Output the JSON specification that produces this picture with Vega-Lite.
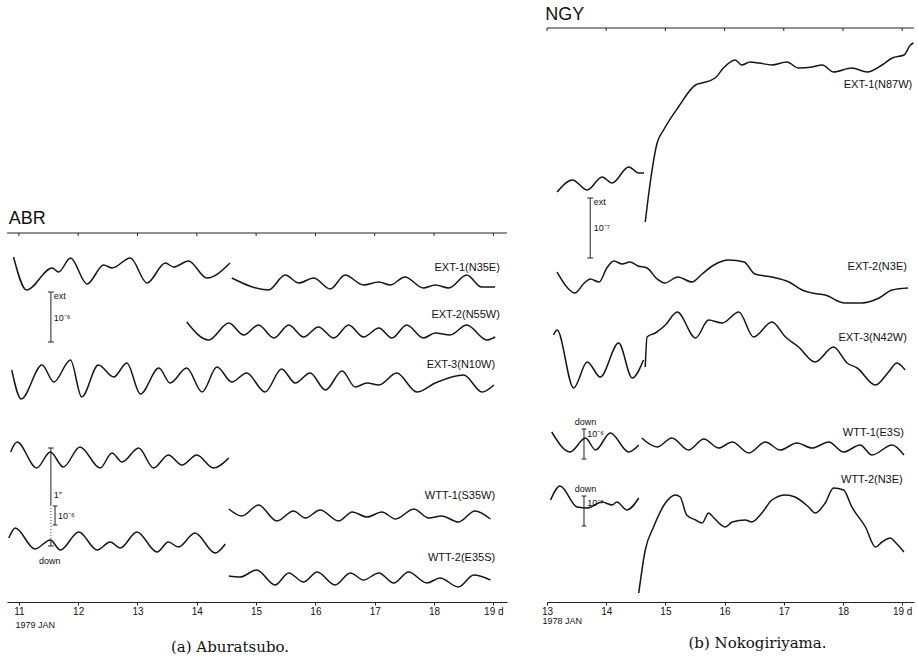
{
  "$schema": "https://vega.github.io/schema/vega-lite/v6.json",
  "background": "white",
  "padding": {"left": 5, "top": 6, "right": 4, "bottom": 4},
  "spacing": 40,
  "bounds": "flush",
  "config": {
    "view": {"stroke": null},
    "font": "Liberation Sans",
    "axis": {"grid": false}
  },
  "datasets": {
    "abr": [
      {"s":"e1a","d":10.91,"v":345},{"s":"e1a","d":11.13,"v":312},{"s":"e1a","d":11.56,"v":334},{"s":"e1a","d":11.67,"v":330},{"s":"e1a","d":11.87,"v":344},{"s":"e1a","d":12.15,"v":318},{"s":"e1a","d":12.43,"v":337},{"s":"e1a","d":12.57,"v":334},{"s":"e1a","d":12.88,"v":344},{"s":"e1a","d":13.16,"v":319},{"s":"e1a","d":13.47,"v":339},{"s":"e1a","d":13.61,"v":335},{"s":"e1a","d":13.86,"v":341},{"s":"e1a","d":14.17,"v":324},{"s":"e1a","d":14.56,"v":339},
      {"s":"e1b","d":14.59,"v":324},{"s":"e1b","d":15.21,"v":312},{"s":"e1b","d":15.49,"v":327},{"s":"e1b","d":15.72,"v":319},{"s":"e1b","d":15.97,"v":324},{"s":"e1b","d":16.25,"v":313},{"s":"e1b","d":16.5,"v":327},{"s":"e1b","d":16.81,"v":317},{"s":"e1b","d":17.07,"v":320},{"s":"e1b","d":17.26,"v":317},{"s":"e1b","d":17.51,"v":325},{"s":"e1b","d":17.82,"v":314},{"s":"e1b","d":18.02,"v":317},{"s":"e1b","d":18.25,"v":314},{"s":"e1b","d":18.55,"v":327},{"s":"e1b","d":18.8,"v":315},{"s":"e1b","d":19.03,"v":315},
      {"s":"e2","d":13.83,"v":280},{"s":"e2","d":14.2,"v":262},{"s":"e2","d":14.54,"v":279},{"s":"e2","d":14.79,"v":267},{"s":"e2","d":15.04,"v":277},{"s":"e2","d":15.3,"v":264},{"s":"e2","d":15.55,"v":277},{"s":"e2","d":15.8,"v":265},{"s":"e2","d":16.05,"v":275},{"s":"e2","d":16.31,"v":264},{"s":"e2","d":16.56,"v":277},{"s":"e2","d":16.81,"v":265},{"s":"e2","d":17.07,"v":274},{"s":"e2","d":17.29,"v":264},{"s":"e2","d":17.54,"v":277},{"s":"e2","d":17.82,"v":264},{"s":"e2","d":18.02,"v":269},{"s":"e2","d":18.27,"v":267},{"s":"e2","d":18.55,"v":277},{"s":"e2","d":18.89,"v":262},{"s":"e2","d":19.03,"v":265},
      {"s":"e3","d":10.88,"v":232},{"s":"e3","d":11.04,"v":203},{"s":"e3","d":11.39,"v":237},{"s":"e3","d":11.59,"v":220},{"s":"e3","d":11.87,"v":242},{"s":"e3","d":12.06,"v":205},{"s":"e3","d":12.34,"v":237},{"s":"e3","d":12.6,"v":225},{"s":"e3","d":12.82,"v":239},{"s":"e3","d":13.05,"v":208},{"s":"e3","d":13.36,"v":234},{"s":"e3","d":13.55,"v":219},{"s":"e3","d":13.83,"v":234},{"s":"e3","d":14.09,"v":210},{"s":"e3","d":14.34,"v":235},{"s":"e3","d":14.59,"v":220},{"s":"e3","d":14.84,"v":229},{"s":"e3","d":15.15,"v":210},{"s":"e3","d":15.43,"v":233},{"s":"e3","d":15.66,"v":219},{"s":"e3","d":15.91,"v":229},{"s":"e3","d":16.17,"v":212},{"s":"e3","d":16.45,"v":231},{"s":"e3","d":16.67,"v":215},{"s":"e3","d":16.87,"v":219},{"s":"e3","d":17.07,"v":217},{"s":"e3","d":17.37,"v":229},{"s":"e3","d":17.71,"v":210},{"s":"e3","d":18.02,"v":219},{"s":"e3","d":18.5,"v":227},{"s":"e3","d":18.81,"v":210},{"s":"e3","d":19.01,"v":217},
      {"s":"w1a","d":10.86,"v":150},{"s":"w1a","d":10.97,"v":160},{"s":"w1a","d":11.3,"v":134},{"s":"w1a","d":11.53,"v":150},{"s":"w1a","d":11.75,"v":135},{"s":"w1a","d":12.03,"v":155},{"s":"w1a","d":12.37,"v":134},{"s":"w1a","d":12.57,"v":149},{"s":"w1a","d":12.74,"v":140},{"s":"w1a","d":13.02,"v":154},{"s":"w1a","d":13.27,"v":134},{"s":"w1a","d":13.52,"v":147},{"s":"w1a","d":13.75,"v":137},{"s":"w1a","d":14.0,"v":147},{"s":"w1a","d":14.28,"v":134},{"s":"w1a","d":14.54,"v":144},
      {"s":"w2a","d":10.83,"v":64},{"s":"w2a","d":10.94,"v":74},{"s":"w2a","d":11.27,"v":53},{"s":"w2a","d":11.53,"v":62},{"s":"w2a","d":11.7,"v":52},{"s":"w2a","d":12.01,"v":70},{"s":"w2a","d":12.32,"v":52},{"s":"w2a","d":12.54,"v":60},{"s":"w2a","d":12.71,"v":54},{"s":"w2a","d":12.99,"v":70},{"s":"w2a","d":13.33,"v":50},{"s":"w2a","d":13.52,"v":60},{"s":"w2a","d":13.69,"v":55},{"s":"w2a","d":13.97,"v":69},{"s":"w2a","d":14.31,"v":49},{"s":"w2a","d":14.48,"v":58},
      {"s":"w1b","d":14.54,"v":93},{"s":"w1b","d":14.76,"v":86},{"s":"w1b","d":15.04,"v":97},{"s":"w1b","d":15.35,"v":81},{"s":"w1b","d":15.63,"v":91},{"s":"w1b","d":15.83,"v":84},{"s":"w1b","d":16.08,"v":92},{"s":"w1b","d":16.39,"v":81},{"s":"w1b","d":16.62,"v":90},{"s":"w1b","d":16.87,"v":85},{"s":"w1b","d":17.12,"v":90},{"s":"w1b","d":17.35,"v":83},{"s":"w1b","d":17.66,"v":93},{"s":"w1b","d":17.91,"v":84},{"s":"w1b","d":18.13,"v":86},{"s":"w1b","d":18.41,"v":80},{"s":"w1b","d":18.69,"v":91},{"s":"w1b","d":18.95,"v":83},
      {"s":"w2b","d":14.54,"v":26},{"s":"w2b","d":14.73,"v":25},{"s":"w2b","d":15.01,"v":32},{"s":"w2b","d":15.32,"v":17},{"s":"w2b","d":15.55,"v":29},{"s":"w2b","d":15.8,"v":20},{"s":"w2b","d":16.03,"v":30},{"s":"w2b","d":16.33,"v":17},{"s":"w2b","d":16.59,"v":29},{"s":"w2b","d":16.81,"v":22},{"s":"w2b","d":17.07,"v":29},{"s":"w2b","d":17.32,"v":19},{"s":"w2b","d":17.57,"v":30},{"s":"w2b","d":17.88,"v":19},{"s":"w2b","d":18.1,"v":24},{"s":"w2b","d":18.41,"v":15},{"s":"w2b","d":18.67,"v":27},{"s":"w2b","d":18.95,"v":22}
    ],
    "ngy": [
      {"s":"n1a","d":13.17,"v":410},{"s":"n1a","d":13.43,"v":422},{"s":"n1a","d":13.68,"v":412},{"s":"n1a","d":13.93,"v":425},{"s":"n1a","d":14.1,"v":419},{"s":"n1a","d":14.38,"v":435},{"s":"n1a","d":14.55,"v":429},{"s":"n1a","d":14.64,"v":429},
      {"s":"n1b","d":14.66,"v":380},{"s":"n1b","d":14.75,"v":422},{"s":"n1b","d":14.86,"v":459},{"s":"n1b","d":14.97,"v":472},{"s":"n1b","d":15.22,"v":495},{"s":"n1b","d":15.51,"v":517},{"s":"n1b","d":15.62,"v":519},{"s":"n1b","d":15.84,"v":524},{"s":"n1b","d":15.98,"v":534},{"s":"n1b","d":16.18,"v":542},{"s":"n1b","d":16.29,"v":537},{"s":"n1b","d":16.43,"v":540},{"s":"n1b","d":16.58,"v":539},{"s":"n1b","d":16.8,"v":537},{"s":"n1b","d":17.05,"v":540},{"s":"n1b","d":17.25,"v":534},{"s":"n1b","d":17.48,"v":535},{"s":"n1b","d":17.65,"v":537},{"s":"n1b","d":17.84,"v":530},{"s":"n1b","d":18.15,"v":534},{"s":"n1b","d":18.41,"v":530},{"s":"n1b","d":18.66,"v":537},{"s":"n1b","d":18.83,"v":544},{"s":"n1b","d":19.03,"v":547},{"s":"n1b","d":19.14,"v":557},{"s":"n1b","d":19.19,"v":559},
      {"s":"n2","d":13.17,"v":330},{"s":"n2","d":13.35,"v":314},{"s":"n2","d":13.47,"v":309},{"s":"n2","d":13.63,"v":319},{"s":"n2","d":13.73,"v":323},{"s":"n2","d":13.88,"v":320},{"s":"n2","d":14.01,"v":334},{"s":"n2","d":14.13,"v":341},{"s":"n2","d":14.27,"v":338},{"s":"n2","d":14.4,"v":340},{"s":"n2","d":14.54,"v":336},{"s":"n2","d":14.69,"v":334},{"s":"n2","d":14.86,"v":323},{"s":"n2","d":14.99,"v":319},{"s":"n2","d":15.21,"v":325},{"s":"n2","d":15.45,"v":320},{"s":"n2","d":15.62,"v":328},{"s":"n2","d":15.82,"v":337},{"s":"n2","d":16.07,"v":342},{"s":"n2","d":16.33,"v":340},{"s":"n2","d":16.51,"v":328},{"s":"n2","d":16.8,"v":325},{"s":"n2","d":17.09,"v":320},{"s":"n2","d":17.31,"v":312},{"s":"n2","d":17.48,"v":309},{"s":"n2","d":17.7,"v":307},{"s":"n2","d":18.03,"v":299},{"s":"n2","d":18.32,"v":299},{"s":"n2","d":18.61,"v":304},{"s":"n2","d":18.83,"v":312},{"s":"n2","d":19.1,"v":314},
      {"s":"n3a","d":13.11,"v":267},{"s":"n3a","d":13.17,"v":272},{"s":"n3a","d":13.45,"v":214},{"s":"n3a","d":13.68,"v":240},{"s":"n3a","d":13.9,"v":225},{"s":"n3a","d":14.21,"v":259},{"s":"n3a","d":14.44,"v":224},{"s":"n3a","d":14.63,"v":242},
      {"s":"n3b","d":14.66,"v":235},{"s":"n3b","d":14.69,"v":265},{"s":"n3b","d":14.83,"v":269},{"s":"n3b","d":15.0,"v":277},{"s":"n3b","d":15.2,"v":290},{"s":"n3b","d":15.51,"v":264},{"s":"n3b","d":15.73,"v":282},{"s":"n3b","d":15.96,"v":279},{"s":"n3b","d":16.24,"v":290},{"s":"n3b","d":16.49,"v":265},{"s":"n3b","d":16.8,"v":280},{"s":"n3b","d":17.03,"v":265},{"s":"n3b","d":17.25,"v":255},{"s":"n3b","d":17.53,"v":240},{"s":"n3b","d":17.84,"v":255},{"s":"n3b","d":18.07,"v":239},{"s":"n3b","d":18.24,"v":234},{"s":"n3b","d":18.55,"v":217},{"s":"n3b","d":18.77,"v":230},{"s":"n3b","d":18.91,"v":239},{"s":"n3b","d":19.05,"v":232},
      {"s":"n4a","d":13.08,"v":170},{"s":"n4a","d":13.39,"v":150},{"s":"n4a","d":13.65,"v":164},{"s":"n4a","d":13.82,"v":152},{"s":"n4a","d":14.07,"v":169},{"s":"n4a","d":14.38,"v":150},{"s":"n4a","d":14.55,"v":157},
      {"s":"n4b","d":14.6,"v":164},{"s":"n4b","d":14.86,"v":155},{"s":"n4b","d":15.11,"v":164},{"s":"n4b","d":15.39,"v":152},{"s":"n4b","d":15.65,"v":163},{"s":"n4b","d":15.9,"v":154},{"s":"n4b","d":16.13,"v":160},{"s":"n4b","d":16.41,"v":149},{"s":"n4b","d":16.69,"v":160},{"s":"n4b","d":16.94,"v":152},{"s":"n4b","d":17.22,"v":159},{"s":"n4b","d":17.48,"v":154},{"s":"n4b","d":17.76,"v":160},{"s":"n4b","d":18.01,"v":150},{"s":"n4b","d":18.29,"v":157},{"s":"n4b","d":18.49,"v":147},{"s":"n4b","d":18.83,"v":157},{"s":"n4b","d":19.03,"v":147},
      {"s":"n5a","d":13.06,"v":102},{"s":"n5a","d":13.22,"v":116},{"s":"n5a","d":13.51,"v":95},{"s":"n5a","d":13.68,"v":94},{"s":"n5a","d":13.93,"v":100},{"s":"n5a","d":14.1,"v":97},{"s":"n5a","d":14.18,"v":100},{"s":"n5a","d":14.35,"v":92},{"s":"n5a","d":14.55,"v":104},
      {"s":"n5b","d":14.55,"v":9},{"s":"n5b","d":14.66,"v":52},{"s":"n5b","d":14.8,"v":75},{"s":"n5b","d":15.0,"v":99},{"s":"n5b","d":15.17,"v":107},{"s":"n5b","d":15.25,"v":105},{"s":"n5b","d":15.36,"v":87},{"s":"n5b","d":15.51,"v":82},{"s":"n5b","d":15.62,"v":79},{"s":"n5b","d":15.73,"v":89},{"s":"n5b","d":15.82,"v":84},{"s":"n5b","d":16.01,"v":75},{"s":"n5b","d":16.13,"v":80},{"s":"n5b","d":16.35,"v":82},{"s":"n5b","d":16.46,"v":80},{"s":"n5b","d":16.63,"v":89},{"s":"n5b","d":16.8,"v":102},{"s":"n5b","d":17.03,"v":107},{"s":"n5b","d":17.19,"v":105},{"s":"n5b","d":17.42,"v":95},{"s":"n5b","d":17.53,"v":89},{"s":"n5b","d":17.7,"v":99},{"s":"n5b","d":17.84,"v":114},{"s":"n5b","d":18.01,"v":112},{"s":"n5b","d":18.15,"v":95},{"s":"n5b","d":18.38,"v":75},{"s":"n5b","d":18.55,"v":55},{"s":"n5b","d":18.66,"v":60},{"s":"n5b","d":18.8,"v":64},{"s":"n5b","d":18.88,"v":60},{"s":"n5b","d":19.03,"v":50}
    ]
  },
  "hconcat": [
    {
      "width": 500,
      "height": 574,
      "title": {"text": "(a) Aburatsubo.", "orient": "bottom", "anchor": "middle", "dx": -27, "offset": 11, "font": "DejaVu Serif", "fontSize": 15, "fontWeight": "normal", "color": "#111"},
      "encoding": {
        "x": {"field": "d", "type": "quantitative", "scale": {"domain": [10.8, 19.23], "nice": false, "zero": false},
          "axis": {"orient": "bottom", "values": [11,12,13,14,15,16,17,18,19], "labelExpr": "datum.value == 19 ? '19 d' : datum.label", "labelFontSize": 10, "labelColor": "#111", "labelPadding": 1, "labelFlush": false, "tickSize": 3, "tickColor": "#222", "domainColor": "#222", "title": "1979  JAN", "titleFontSize": 9, "titleFontWeight": "normal", "titleColor": "#111", "titleAnchor": "start", "titleAlign": "left", "titleBaseline": "alphabetic", "titleX": 8, "titleY": 25}},
        "y": {"field": "v", "type": "quantitative", "scale": {"domain": [0, 574], "nice": false, "zero": false}, "axis": null}
      },
      "layer": [
        {"data": {"name": "abr"}, "mark": {"type": "line", "interpolate": "monotone", "color": "#161616", "strokeWidth": 1.5}, "encoding": {"detail": {"field": "s"}}},
        {"data": {"values": [{"d": 10.8, "d2": 19.23, "v": 369}]}, "mark": {"type": "rule", "color": "#222", "strokeWidth": 1.2}, "encoding": {"x2": {"field": "d2"}}},
        {"data": {"values": [{"d":11,"v":369,"v2":366},{"d":12,"v":369,"v2":366},{"d":13,"v":369,"v2":366},{"d":14,"v":369,"v2":366},{"d":15,"v":369,"v2":366},{"d":16,"v":369,"v2":366},{"d":17,"v":369,"v2":366},{"d":18,"v":369,"v2":366},{"d":19,"v":369,"v2":366}]}, "mark": {"type": "rule", "color": "#222"}, "encoding": {"y2": {"field": "v2"}}},
        {"data": {"values": [
          {"d":11.54,"d2":11.54,"v":310,"v2":260},{"d":11.49,"d2":11.59,"v":310,"v2":310},{"d":11.49,"d2":11.59,"v":260,"v2":260},
          {"d":11.54,"d2":11.54,"v":154,"v2":97},{"d":11.49,"d2":11.59,"v":154,"v2":154},{"d":11.49,"d2":11.59,"v":56,"v2":56},{"d":11.54,"d2":11.54,"v":62,"v2":56},
          {"d":11.61,"d2":11.61,"v":96,"v2":77},{"d":11.57,"d2":11.65,"v":96,"v2":96},{"d":11.57,"d2":11.65,"v":77,"v2":77}
        ]}, "mark": {"type": "rule", "color": "#222", "strokeWidth": 1}, "encoding": {"x2": {"field": "d2"}, "y2": {"field": "v2"}}},
        {"data": {"values": [{"d": 11.54, "v": 97, "v2": 62}]}, "mark": {"type": "rule", "color": "#444", "strokeWidth": 1, "strokeDash": [1, 2]}, "encoding": {"y2": {"field": "v2"}}},
        {"data": {"values": [
          {"d":19.11,"v":334,"t":"EXT-1(N35E)"},{"d":19.11,"v":287,"t":"EXT-2(N55W)"},{"d":19.03,"v":237,"t":"EXT-3(N10W)"},{"d":19.03,"v":106,"t":"WTT-1(S35W)"},{"d":19.03,"v":44,"t":"WTT-2(E35S)"}
        ]}, "mark": {"type": "text", "align": "right", "baseline": "middle", "fontSize": 11, "color": "#111"}, "encoding": {"text": {"field": "t"}}},
        {"data": {"values": [
          {"d":11.59,"v":306,"t":"ext"},{"d":11.59,"v":284,"t":"10⁻⁶"},{"d":11.59,"v":107,"t":"1″"},{"d":11.66,"v":86,"t":"10⁻⁶"}
        ]}, "mark": {"type": "text", "align": "left", "baseline": "middle", "fontSize": 9, "color": "#111"}, "encoding": {"text": {"field": "t"}}},
        {"data": {"values": [{"d":11.52,"v":41,"t":"down"}]}, "mark": {"type": "text", "align": "center", "baseline": "middle", "fontSize": 9, "color": "#111"}, "encoding": {"text": {"field": "t"}}},
        {"data": {"values": [{"d":10.83,"v":383,"t":"ABR"}]}, "mark": {"type": "text", "align": "left", "baseline": "middle", "fontSize": 18, "color": "#111"}, "encoding": {"text": {"field": "t"}}}
      ]
    },
    {
      "width": 367,
      "height": 574,
      "title": {"text": "(b) Nokogiriyama.", "orient": "bottom", "anchor": "middle", "dx": 27, "offset": 11, "font": "DejaVu Serif", "fontSize": 15, "fontWeight": "normal", "color": "#111"},
      "encoding": {
        "x": {"field": "d", "type": "quantitative", "scale": {"domain": [13, 19.2], "nice": false, "zero": false},
          "axis": {"orient": "bottom", "values": [13,14,15,16,17,18,19], "labelExpr": "datum.value == 19 ? '19 d' : datum.label", "labelFontSize": 10, "labelColor": "#111", "labelPadding": 1, "labelFlush": false, "tickSize": 3, "tickColor": "#222", "domainColor": "#222", "title": "1978  JAN", "titleFontSize": 9, "titleFontWeight": "normal", "titleColor": "#111", "titleAnchor": "start", "titleAlign": "left", "titleBaseline": "alphabetic", "titleX": -5, "titleY": 21}},
        "y": {"field": "v", "type": "quantitative", "scale": {"domain": [0, 574], "nice": false, "zero": false}, "axis": null}
      },
      "layer": [
        {"data": {"name": "ngy"}, "mark": {"type": "line", "interpolate": "monotone", "color": "#161616", "strokeWidth": 1.5}, "encoding": {"detail": {"field": "s"}}},
        {"data": {"values": [{"d": 13, "d2": 19.2, "v": 574}]}, "mark": {"type": "rule", "color": "#222", "strokeWidth": 1.2}, "encoding": {"x2": {"field": "d2"}}},
        {"data": {"values": [{"d":13,"v":574,"v2":571},{"d":14,"v":574,"v2":571},{"d":15,"v":574,"v2":571},{"d":16,"v":574,"v2":571},{"d":17,"v":574,"v2":571},{"d":18,"v":574,"v2":571},{"d":19,"v":574,"v2":571}]}, "mark": {"type": "rule", "color": "#222"}, "encoding": {"y2": {"field": "v2"}}},
        {"data": {"values": [
          {"d":13.73,"d2":13.73,"v":404,"v2":344},{"d":13.68,"d2":13.78,"v":404,"v2":404},{"d":13.68,"d2":13.78,"v":344,"v2":344},
          {"d":13.625,"d2":13.625,"v":173,"v2":143},{"d":13.585,"d2":13.665,"v":173,"v2":173},{"d":13.585,"d2":13.665,"v":143,"v2":143},
          {"d":13.625,"d2":13.625,"v":106,"v2":76},{"d":13.585,"d2":13.665,"v":106,"v2":106},{"d":13.585,"d2":13.665,"v":76,"v2":76}
        ]}, "mark": {"type": "rule", "color": "#222", "strokeWidth": 1}, "encoding": {"x2": {"field": "d2"}, "y2": {"field": "v2"}}},
        {"data": {"values": [
          {"d":19.17,"v":517,"t":"EXT-1(N87W)"},{"d":19.08,"v":335,"t":"EXT-2(N3E)"},{"d":19.08,"v":264,"t":"EXT-3(N42W)"},{"d":19.03,"v":169,"t":"WTT-1(E3S)"},{"d":19.01,"v":122,"t":"WTT-2(N3E)"}
        ]}, "mark": {"type": "text", "align": "right", "baseline": "middle", "fontSize": 11, "color": "#111"}, "encoding": {"text": {"field": "t"}}},
        {"data": {"values": [
          {"d":13.79,"v":400,"t":"ext"},{"d":13.79,"v":374,"t":"10⁻⁷"},{"d":13.68,"v":168,"t":"10⁻⁶"},{"d":13.68,"v":99,"t":"10⁻⁷"}
        ]}, "mark": {"type": "text", "align": "left", "baseline": "middle", "fontSize": 9, "color": "#111"}, "encoding": {"text": {"field": "t"}}},
        {"data": {"values": [{"d":13.65,"v":180,"t":"down"},{"d":13.65,"v":113,"t":"down"}]}, "mark": {"type": "text", "align": "center", "baseline": "middle", "fontSize": 9, "color": "#111"}, "encoding": {"text": {"field": "t"}}},
        {"data": {"values": [{"d":12.97,"v":587,"t":"NGY"}]}, "mark": {"type": "text", "align": "left", "baseline": "middle", "fontSize": 18, "color": "#111"}, "encoding": {"text": {"field": "t"}}}
      ]
    }
  ]
}
